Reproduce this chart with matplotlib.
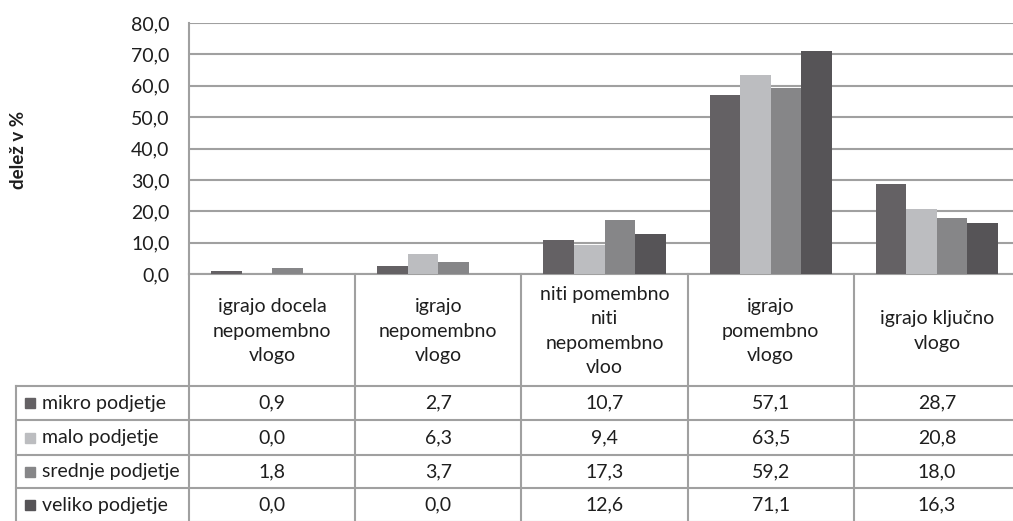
import matplotlib.pyplot as plt
from matplotlib.patches import Rectangle

# Data
categories = ['igrajo docela\nnepomembno\nvlogo',
              'igrajo\nnepomembno\nvlogo',
              'niti pomembno\nniti\nnepomembno\nvloo',
              'igrajo\npomembno\nvlogo',
              'igrajo ključno\nvlogo']
series = ['mikro podjetje', 'malo podjetje', 'srednje podjetje', 'veliko podjetje']
mikro = [0.9, 2.7, 10.7, 57.1, 28.7]
malo = [0.0, 6.3, 9.4, 63.5, 20.8]
srednje = [1.8, 3.7, 17.3, 59.2, 18.0]
veliko = [0.0, 0.0, 12.6, 71.1, 16.3]
colors = ['#646164', '#bcbdc0', '#868688', '#565457']
yticks = [0, 10, 20, 30, 40, 50, 60, 70, 80]

values = [mikro, malo, srednje, veliko]

plt.rcParams['font.family'] = ['Lato', 'DejaVu Sans']
W, H = 1013, 521
fig = plt.figure(figsize=(W / 100, H / 100), dpi=100)

def px(x0, y0, x1, y1):
    # pixel box (top-left origin) -> figure fraction
    return [x0 / W, 1 - y1 / H, (x1 - x0) / W, (y1 - y0) / H]

grid_c = '#a0a0a0'
text_c = '#1e1e1e'
fs = 14

# main bar chart
ax = fig.add_axes(px(189, 23, 1020, 274))
n = len(categories)
bw = 0.184
for i, (vals, col) in enumerate(zip(values, colors)):
    xs = [c + (i - 1.5) * bw for c in range(n)]
    ax.bar(xs, vals, width=bw, color=col, zorder=3)
ax.set_xlim(-0.5, n - 0.5)
ax.set_ylim(0, 80)
ax.set_yticks(yticks)
ax.set_yticklabels([f'{t:.1f}'.replace('.', ',') for t in yticks],
                   fontsize=fs, color=text_c)
ax.set_xticks([])
ax.tick_params(axis='y', length=0, pad=14)
ax.grid(axis='y', color=grid_c, linewidth=1.5, zorder=0)
for s in ['top', 'right']:
    ax.spines[s].set_visible(False)
ax.spines['left'].set_color(grid_c)
ax.spines['left'].set_linewidth(1.5)
ax.spines['bottom'].set_color(grid_c)
ax.spines['bottom'].set_linewidth(1.5)

fig.text(19 / W, 1 - 150 / H, 'delež v %', rotation=90, fontsize=13.5,
         fontweight='bold', color=text_c, ha='center', va='center')

# data table underneath
left_u = -0.5 - (189 - 16) / ((1020 - 189) / n)
tx = fig.add_axes(px(16, 274, 1020, 522))
tx.set_xlim(left_u, n - 0.5)
tx.set_ylim(248, 0)
tx.axis('off')

rows = [112, 146, 181, 214, 248]
lk = dict(color=grid_c, linewidth=1.5, clip_on=False)
for c in range(n + 1):
    tx.plot([c - 0.5, c - 0.5], [0, 248], **lk)
tx.plot([left_u, left_u], [112, 248], **lk)
for r in rows:
    tx.plot([left_u, n - 0.5], [r, r], **lk)

for c, lab in enumerate(categories):
    tx.text(c, 57, lab, ha='center', va='center', fontsize=fs,
            color=text_c, linespacing=1.52)

for i, (name, vals, col) in enumerate(zip(series, values, colors)):
    yc = (rows[i] + rows[i + 1]) / 2
    tx.add_patch(Rectangle((left_u + 0.057, yc - 5), 0.058, 10, color=col,
                           clip_on=False))
    tx.text(left_u + 0.155, yc, name, ha='left', va='center', fontsize=fs,
            color=text_c)
    for c, v in enumerate(vals):
        tx.text(c, yc, f'{v:.1f}'.replace('.', ','), ha='center',
                va='center', fontsize=fs, color=text_c)

fig.savefig('out.png', dpi=100)
